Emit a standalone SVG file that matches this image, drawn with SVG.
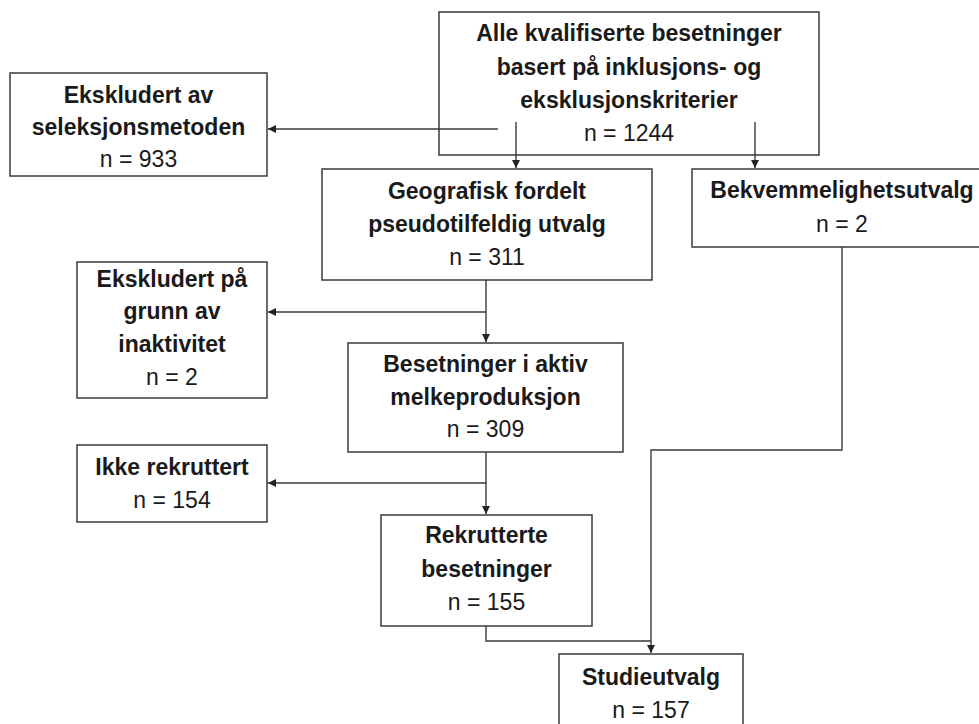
<svg xmlns="http://www.w3.org/2000/svg" width="979" height="724" viewBox="0 0 979 724">
<defs>
<marker id="ah" viewBox="0 0 10 10" refX="10" refY="5" markerWidth="8" markerHeight="8" markerUnits="userSpaceOnUse" orient="auto">
<path d="M0,0 L10,5 L0,10 Z" fill="#222"/>
</marker>
<style>
.box{fill:#fff;stroke:#3a3a3a;stroke-width:1.5}
.b{font-family:"Liberation Sans",Arial,sans-serif;font-weight:bold;font-size:23px;fill:#1a1a1a;text-anchor:middle}
.r{font-family:"Liberation Sans",Arial,sans-serif;font-size:23px;fill:#1a1a1a;text-anchor:middle}
.c{fill:none;stroke:#3a3a3a;stroke-width:1.4}
.a{marker-end:url(#ah)}
</style>
</defs>
<rect width="979" height="724" fill="#fff"/>

<g id="alle">
<rect class="box" x="439" y="12" width="380" height="143"/>
<text class="b" x="629" y="41">Alle kvalifiserte besetninger</text>
<text class="b" x="629" y="75">basert på inklusjons- og</text>
<text class="b" x="629" y="108">eksklusjonskriterier</text>
<text class="r" x="629" y="141">n = 1244</text>
</g>

<g id="ekskludert-seleksjon">
<rect class="box" x="10" y="73" width="257" height="103"/>
<text class="b" x="138.5" y="103">Ekskludert av</text>
<text class="b" x="138.5" y="135">seleksjonsmetoden</text>
<text class="r" x="138.5" y="167">n = 933</text>
</g>

<g id="geografisk">
<rect class="box" x="322" y="169" width="330" height="111"/>
<text class="b" x="487" y="199">Geografisk fordelt</text>
<text class="b" x="487" y="232">pseudotilfeldig utvalg</text>
<text class="r" x="487" y="265">n = 311</text>
</g>

<g id="bekvemmelighet">
<rect class="box" x="692" y="169" width="300" height="78"/>
<text class="b" x="842" y="198">Bekvemmelighetsutvalg</text>
<text class="r" x="842" y="232">n = 2</text>
</g>

<g id="ekskludert-inaktivitet">
<rect class="box" x="77" y="262" width="190" height="136"/>
<text class="b" x="172" y="287">Ekskludert på</text>
<text class="b" x="172" y="319">grunn av</text>
<text class="b" x="172" y="352">inaktivitet</text>
<text class="r" x="172" y="385">n = 2</text>
</g>

<g id="aktiv">
<rect class="box" x="348" y="343" width="275" height="109"/>
<text class="b" x="485.5" y="372">Besetninger i aktiv</text>
<text class="b" x="485.5" y="405">melkeproduksjon</text>
<text class="r" x="485.5" y="437">n = 309</text>
</g>

<g id="ikke-rekruttert">
<rect class="box" x="77" y="445" width="190" height="77"/>
<text class="b" x="172" y="475">Ikke rekruttert</text>
<text class="r" x="172" y="508">n = 154</text>
</g>

<g id="rekrutterte">
<rect class="box" x="381" y="515" width="211" height="111"/>
<text class="b" x="486.5" y="543">Rekrutterte</text>
<text class="b" x="486.5" y="577">besetninger</text>
<text class="r" x="486.5" y="610">n = 155</text>
</g>

<g id="studieutvalg">
<rect class="box" x="559" y="654" width="184" height="72"/>
<text class="b" x="651" y="685">Studieutvalg</text>
<text class="r" x="651" y="718">n = 157</text>
</g>

<g id="connectors">
<line class="c a" x1="516" y1="122" x2="516" y2="168"/>
<line class="c a" x1="755" y1="122" x2="755" y2="168"/>
<line class="c a" x1="498" y1="129" x2="268" y2="129"/>
<line class="c a" x1="486" y1="280" x2="486" y2="342"/>
<line class="c a" x1="486" y1="312" x2="268" y2="312"/>
<line class="c a" x1="486" y1="452" x2="486" y2="514"/>
<line class="c a" x1="486" y1="483" x2="268" y2="483"/>
<polyline class="c" points="486,626 486,641 651,641"/>
<polyline class="c a" points="842,247 842,450 651,450 651,653"/>
</g>
</svg>
